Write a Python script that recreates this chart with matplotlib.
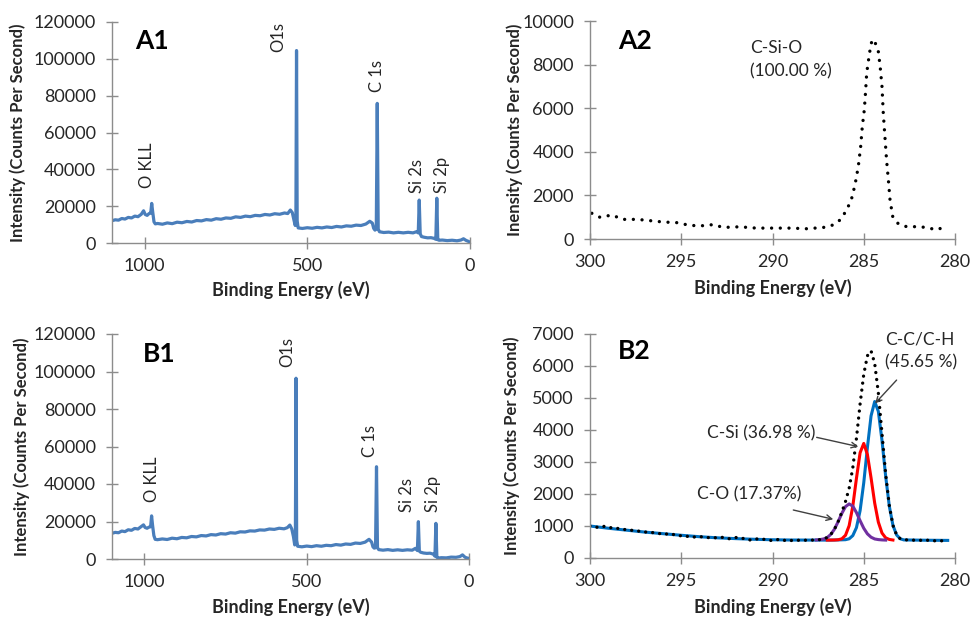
import matplotlib
matplotlib.use("Agg")
import matplotlib.pyplot as plt

plt.rcParams['font.family'] = ['Lato', 'DejaVu Sans']

# ---------------- Survey A1 ----------------
a1_be = [1100, 1090, 1080, 1070, 1060, 1050, 1040, 1030, 1020, 1010, 1003, 998, 992, 986, 981, 978, 975, 971, 967,
         960, 945, 930, 915, 900, 885, 870, 855, 840, 825, 810, 795, 780, 765, 750, 735, 720, 705, 690, 675, 660,
         645, 630, 615, 600, 585, 570, 560, 552, 546, 541, 537, 535, 533, 531, 528, 515, 500, 485, 470, 455, 440,
         425, 410, 395, 380, 365, 350, 335, 320, 308, 300, 296, 292, 288, 285, 282, 278, 265, 250, 235, 220, 205,
         190, 175, 165, 159, 156, 153, 149, 140, 130, 120, 110, 105, 102, 99, 95, 85, 70, 55, 40, 28, 20, 12, 5, 0]
a1_int = [12100, 12600, 12400, 13300, 13000, 13900, 13600, 14600, 14300, 15600, 17500, 15500, 15000, 16000, 16200,
          21500, 17000, 11500, 10400, 10600, 10200, 10900, 10500, 11300, 11000, 11700, 11400, 12200, 12000, 12700,
          12400, 13200, 12900, 13600, 13400, 14200, 13900, 14600, 14300, 15000, 14800, 15500, 15200, 15900, 15600,
          16300, 16000, 17900, 16500, 12500, 9500, 12000, 104500, 12000, 8200, 7900, 8300, 8000, 8500, 8200, 8700,
          8400, 9000, 8700, 9300, 9100, 9700, 9500, 10300, 11800, 10800, 8000, 7000, 7500, 75800, 7500, 6100, 5700,
          5900, 5500, 5800, 5500, 5800, 5500, 6100, 5500, 23300, 5000, 3500, 3100, 2800, 2900, 2500, 2000, 24300,
          1800, 1500, 1600, 1300, 1500, 1200, 1600, 2300, 1400, 900, 300]

# ---------------- Survey B1 ----------------
b1_be = a1_be
b1_int = [13700, 14200, 14000, 14900, 14600, 15600, 15300, 16300, 16000, 17300, 18200, 16800, 16400, 17000, 17200,
          23000, 18000, 12500, 10500, 10300, 10700, 10400, 11100, 10800, 11500, 11300, 12000, 11800, 12500, 12300,
          13000, 12800, 13500, 13300, 14000, 13800, 14500, 14400, 15000, 14900, 15500, 15400, 16000, 15800, 16400,
          16100, 16700, 18100, 16000, 12000, 7500, 10000, 96400, 10000, 6800, 6500, 6900, 6600, 7100, 6800, 7300,
          7100, 7700, 7400, 8000, 7800, 8500, 8300, 9000, 10500, 9000, 6500, 5800, 6000, 49200, 6000, 5000, 4700,
          5000, 4600, 4900, 4600, 4900, 4700, 5700, 4500, 19900, 4200, 3600, 3200, 3000, 3100, 2600, 1500, 19000,
          900, 500, 700, 600, 1000, 900, 1300, 2200, 900, 500, 300]

survey_labels = ["O KLL", "O1s", "C 1s", "Si 2s", "Si 2p"]
a1_label_be = [991, 590, 286, 164, 87]
a1_label_y = [29900, 103700, 82000, 27100, 27100]
b1_label_be = [978, 560, 305, 190, 110]
b1_label_y = [30400, 102400, 54400, 25000, 25000]

# ---------------- A2 C1s high-res ----------------
a2_be = [299.9, 299.45, 298.8, 298.2, 297.4, 296.7, 296.0, 295.25, 294.5, 293.8, 293.25, 292.7, 291.8, 290.9, 290.0,
         289.0, 288.1, 287.1, 286.7, 286.3, 285.93, 285.66, 285.48, 285.3, 285.17, 285.08, 284.97, 284.9, 284.84,
         284.7, 284.6, 284.51, 284.4, 284.3, 284.2, 284.1, 284.0, 283.93, 283.84, 283.75, 283.65, 283.56, 283.41,
         283.1, 282.65, 281.9, 281.37, 281.0, 280.55]
a2_int = [1180, 995, 1100, 900, 900, 840, 780, 750, 620, 610, 660, 530, 560, 500, 500, 500, 470, 540, 640, 870,
          1330, 1870, 2480, 3320, 4230, 5150, 5920, 6760, 7600, 8440, 8950, 9160, 9050, 8850, 8590, 7900, 6990,
          5770, 4690, 3620, 2700, 1790, 1020, 690, 565, 565, 490, 420, 565]

# ---------------- B2 C1s high-res with fit ----------------
b2_be = [300.0, 299.6, 299.2, 298.8, 298.4, 298.0, 297.6, 297.2, 296.8, 296.4, 296.0, 295.6, 295.2, 294.8, 294.4,
         294.0, 293.6, 293.2, 292.8, 292.4, 292.0, 291.6, 291.2, 290.8, 290.4, 290.0, 289.6, 289.2, 288.8, 288.4,
         288.0, 287.8, 287.6, 287.4, 287.2, 287.0, 286.8, 286.6, 286.4, 286.2, 286.0, 285.8, 285.6, 285.4, 285.2,
         285.0, 284.8, 284.6, 284.4, 284.2, 284.0, 283.8, 283.6, 283.4, 283.2, 283.0, 282.8, 282.4, 282.0, 281.6,
         281.2, 280.8, 280.4]
b2_int = [1000, 960, 990, 940, 920, 880, 860, 830, 800, 790, 740, 760, 700, 690, 650, 670, 640, 630, 650, 600, 640,
          610, 560, 600, 580, 540, 590, 530, 560, 550, 560, 560, 565, 575, 595, 640, 740, 905, 1140, 1435, 1765,
          2180, 2820, 3740, 4815, 5740, 6320, 6475, 6080, 5155, 3895, 2630, 1640, 1020, 720, 600, 570, 560, 550,
          560, 540, 530, 570]

cc_be = [300.0, 299.0, 298.0, 297.0, 296.0, 295.0, 294.0, 293.0, 292.0, 291.0, 290.0, 289.0, 288.0, 287.6, 287.4,
         287.2, 287.0, 286.8, 286.6, 286.4, 286.2, 286.0, 285.8, 285.6, 285.4, 285.2, 285.0, 284.8, 284.6, 284.4,
         284.2, 284.0, 283.8, 283.6, 283.4, 283.2, 283.0, 282.8, 281.6, 280.4]
cc_int = [1000, 930, 870, 810, 760, 710, 665, 630, 605, 585, 570, 562, 560, 560, 560, 560, 560, 560, 562, 565, 568,
          572, 600, 700, 950, 1480, 2350, 3450, 4440, 4890, 4580, 3670, 2560, 1620, 1020, 720, 600, 565, 555, 550]

csi_be = [287.0, 286.8, 286.6, 286.4, 286.2, 286.0, 285.8, 285.6, 285.4, 285.2, 285.0, 284.8, 284.6, 284.4, 284.2,
          284.0, 283.8, 283.6, 283.4]
csi_int = [560, 560, 562, 570, 600, 710, 1010, 1620, 2490, 3290, 3580, 3235, 2505, 1715, 1120, 780, 630, 580, 562]

co_be = [287.6, 287.4, 287.2, 287.0, 286.8, 286.6, 286.4, 286.2, 286.0, 285.8, 285.6, 285.4, 285.2, 285.0, 284.8,
         284.6, 284.4, 284.2, 284.0, 283.8]
co_int = [565, 575, 595, 640, 740, 905, 1140, 1395, 1605, 1690, 1620, 1420, 1165, 930, 755, 650, 595, 575, 565, 560]

# ---------------- styling ----------------
W, H = 972, 618
fig = plt.figure(figsize=(9.72, 6.18), dpi=100)

def px_axes(left, top, right, bottom):
    return fig.add_axes([left / W, 1 - bottom / H, (right - left) / W, (bottom - top) / H])

ax_a1 = px_axes(112, 22, 470, 243)
ax_a2 = px_axes(590, 21, 955, 239)
ax_b1 = px_axes(112, 334, 469, 559)
ax_b2 = px_axes(590, 334, 955, 558)

AXC = '#8c8c8c'
TXT = '#262626'
SURV = '#4A7EBB'

def style(ax):
    for s in ['top', 'right']:
        ax.spines[s].set_visible(False)
    for s in ['left', 'bottom']:
        ax.spines[s].set_color(AXC)
        ax.spines[s].set_linewidth(1.0)
    ax.tick_params(axis='both', direction='inout', length=9, width=1.0, color=AXC,
                   labelsize=13, labelcolor=TXT)
    ax.tick_params(axis='x', pad=6.5)
    ax.tick_params(axis='y', pad=7)
    ax.patch.set_alpha(0)

def labels(ax, ylab, ylx, xly):
    ax.set_ylabel(ylab, fontsize=12, fontweight='bold', color=TXT, va='center')
    ax.yaxis.set_label_coords(ylx, 0.5)
    ax.set_xlabel('Binding Energy (eV)', fontsize=13, fontweight='bold', color=TXT, va='center')
    ax.xaxis.set_label_coords(0.5, xly)

# Survey panels
for ax, be, inten, lab_be, lab_y, tag, tagxy, ylx, xly in [
        (ax_a1, a1_be, a1_int, a1_label_be, a1_label_y, 'A1', (0.064, 0.914), -0.263, -0.213),
        (ax_b1, b1_be, b1_int, b1_label_be, b1_label_y, 'B1', (0.087, 0.911), -0.252, -0.213)]:
    ax.plot(be, inten, color=SURV, lw=2.3, solid_joinstyle='round')
    ax.set_xlim(1100, 0)
    ax.set_ylim(0, 120000)
    ax.set_xticks([1000, 500, 0])
    ax.set_yticks(range(0, 120001, 20000))
    style(ax)
    for t, x, y in zip(survey_labels, lab_be, lab_y):
        ax.text(x, y, t, rotation=90, ha='center', va='bottom', fontsize=12, color=TXT)
    ax.text(tagxy[0], tagxy[1], tag, transform=ax.transAxes, fontsize=19, fontweight='bold',
            ha='left', va='center', color='black')
    labels(ax, 'Intensity (Counts Per Second)', ylx, xly)

# A2
ax = ax_a2
ax.plot(a2_be, a2_int, color='black', lw=2.4, linestyle=(0, (0.01, 2.6)), dash_capstyle='round')
ax.set_xlim(300, 280)
ax.set_ylim(0, 10000)
ax.set_xticks([300, 295, 290, 285, 280])
ax.set_yticks(range(0, 10001, 2000))
style(ax)
ax.text(291.23, 8760, 'C-Si-O', fontsize=12.5, color=TXT, ha='left', va='center')
ax.text(291.23, 7700, '(100.00 %)', fontsize=12.5, color=TXT, ha='left', va='center')
ax.text(0.077, 0.908, 'A2', transform=ax.transAxes, fontsize=19, fontweight='bold', ha='left', va='center')
labels(ax, 'Inensity (Counts Per Second)', -0.205, -0.225)

# B2
ax = ax_b2
ax.plot(cc_be, cc_int, color='#0070C0', lw=2.2)
ax.plot(csi_be, csi_int, color='#FF0000', lw=2.2)
ax.plot(co_be, co_int, color='#7030A0', lw=2.2)
ax.plot(b2_be, b2_int, color='black', lw=2.4, linestyle=(0, (0.01, 2.1)), dash_capstyle='round')
ax.set_xlim(300, 280)
ax.set_ylim(0, 7000)
ax.set_xticks([300, 295, 290, 285, 280])
ax.set_yticks(range(0, 7001, 1000))
style(ax)
arrow = dict(arrowstyle='->', color='#404040', lw=1.0, shrinkA=0, shrinkB=0)
ax.text(283.84, 6840, 'C-C/C-H', fontsize=12.5, color=TXT, ha='left', va='center')
ax.text(283.84, 6125, '(45.65 %)', fontsize=12.5, color=TXT, ha='left', va='center')
ax.annotate('', xy=(284.38, 4830), xytext=(283.2, 5560), arrowprops=arrow)
ax.text(287.67, 3880, 'C-Si (36.98 %)', fontsize=12.5, color=TXT, ha='right', va='center')
ax.annotate('', xy=(285.3, 3480), xytext=(287.58, 3770), arrowprops=arrow)
ax.text(288.4, 2000, 'C-O (17.37%)', fontsize=12.5, color=TXT, ha='right', va='center')
ax.annotate('', xy=(286.67, 1210), xytext=(288.86, 1500), arrowprops=arrow)
ax.text(0.077, 0.924, 'B2', transform=ax.transAxes, fontsize=19, fontweight='bold', ha='left', va='center')
labels(ax, 'Intensity (Counts Per Second)', -0.214, -0.219)

fig.savefig('out.png', dpi=100)
